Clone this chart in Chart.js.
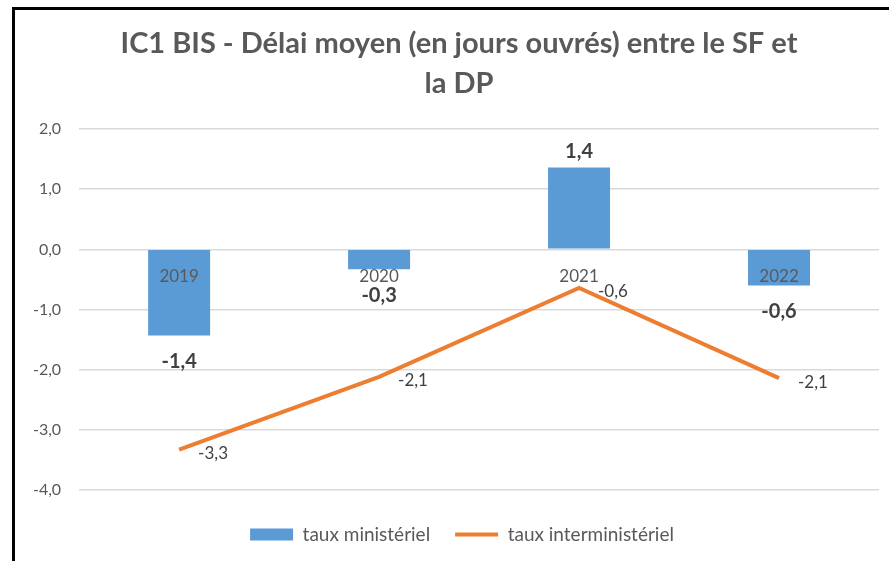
<!DOCTYPE html>
<html>
<head>
<meta charset="utf-8">
<script src="https://cdn.jsdelivr.net/npm/chart.js@4"></script>
<style>
  html, body { margin: 0; padding: 0; background: #fff; }
  .frame {
    position: absolute; left: 12px; top: 7px;
    width: 874px; height: 551px;
    border-left: 3px solid #000; border-top: 3px solid #000;
  }
  canvas { display: block; }
</style>
</head>
<body>
<div class="frame"><canvas id="chart" width="874" height="551"></canvas></div>
<script>
const years = ['2019', '2020', '2021', '2022'];
const ministeriel = [-1.43, -0.33, 1.36, -0.6];
const interministeriel = [-3.33, -2.12, -0.64, -2.14];
const yTicks = [2, 1, 0, -1, -2, -3, -4];

const FONT = 'Lato, "Open Sans", sans-serif';
const GREY = '#595959';

function fmt(v) {
    return v.toFixed(1).replace('.', ',');
}

// data labels, drawn from the element positions
const valueLabels = {
    id: 'valueLabels',
    afterDatasetsDraw(chart) {
        const ctx = chart.ctx;
        ctx.save();
        ctx.fillStyle = '#404040';
        ctx.textBaseline = 'middle';

        ctx.font = 'bold 20px ' + FONT;
        ctx.textAlign = 'center';
        chart.getDatasetMeta(0).data.forEach((bar, i) => {
            const v = ministeriel[i];
            ctx.fillText(fmt(v), bar.x, v >= 0 ? bar.y - 16 : bar.y + 26);
        });

        ctx.font = '17px ' + FONT;
        ctx.textAlign = 'left';
        chart.getDatasetMeta(1).data.forEach((pt, i) => {
            ctx.fillText(fmt(interministeriel[i]), pt.x + 19, pt.y + 4);
        });
        ctx.restore();
    }
};

// the original chart box is cropped on the right, so title and legend sit a bit right of centre
const shiftBlocks = {
    id: 'shiftBlocks',
    afterLayout(chart) {
        if (chart.titleBlock) {
            chart.titleBlock.left += 12;
            chart.titleBlock.right += 12;
        }
        if (chart.legend) {
            chart.legend.left += 15;
            chart.legend.right += 15;
        }
    }
};

new Chart(document.getElementById('chart'), {
    data: {
        labels: years,
        datasets: [
            {
                type: 'bar',
                label: 'taux ministériel',
                data: ministeriel,
                backgroundColor: '#5B9BD5',
                borderWidth: 0,
                barPercentage: 0.31,
                categoryPercentage: 1,
                pointStyle: 'rect'
            },
            {
                type: 'line',
                label: 'taux interministériel',
                data: interministeriel,
                borderColor: '#ED7D31',
                backgroundColor: '#ED7D31',
                borderWidth: 4,
                pointRadius: 0,
                tension: 0,
                pointStyle: 'line'
            }
        ]
    },
    options: {
        responsive: false,
        animation: false,
        layout: { padding: { left: 0, right: 10, top: 0, bottom: 7 } },
        scales: {
            x: {
                position: { y: 0 },
                grid: { display: false, drawTicks: false },
                border: { display: false },
                ticks: { z: 1, color: GREY, font: { family: FONT, size: 17 }, padding: 17 }
            },
            y: {
                min: -4,
                max: 2,
                afterBuildTicks(axis) {
                    axis.ticks = yTicks.map(v => ({ value: v }));
                },
                grid: { color: '#d9d9d9', lineWidth: 1.5, drawTicks: false },
                border: { display: false },
                ticks: {
                    color: GREY,
                    font: { family: FONT, size: 16 },
                    padding: 18,
                    callback: v => fmt(v)
                }
            }
        },
        plugins: {
            title: {
                display: true,
                text: ['IC1 BIS - Délai moyen (en jours ouvrés) entre le SF et', 'la DP'],
                color: GREY,
                font: { family: FONT, size: 29, weight: 'bold', lineHeight: 1.38 },
                padding: { top: 14, bottom: 25 }
            },
            legend: {
                position: 'bottom',
                // empty title only used as a spacer above the legend row
                title: { display: true, text: ' ', font: { size: 10, lineHeight: 1 }, padding: 0 },
                labels: {
                    color: GREY,
                    font: { family: FONT, size: 19 },
                    usePointStyle: true,
                    pointStyleWidth: 43,
                    boxHeight: 12,
                    padding: 25
                }
            },
            tooltip: { enabled: false }
        }
    },
    plugins: [valueLabels, shiftBlocks]
});
</script>
</body>
</html>
